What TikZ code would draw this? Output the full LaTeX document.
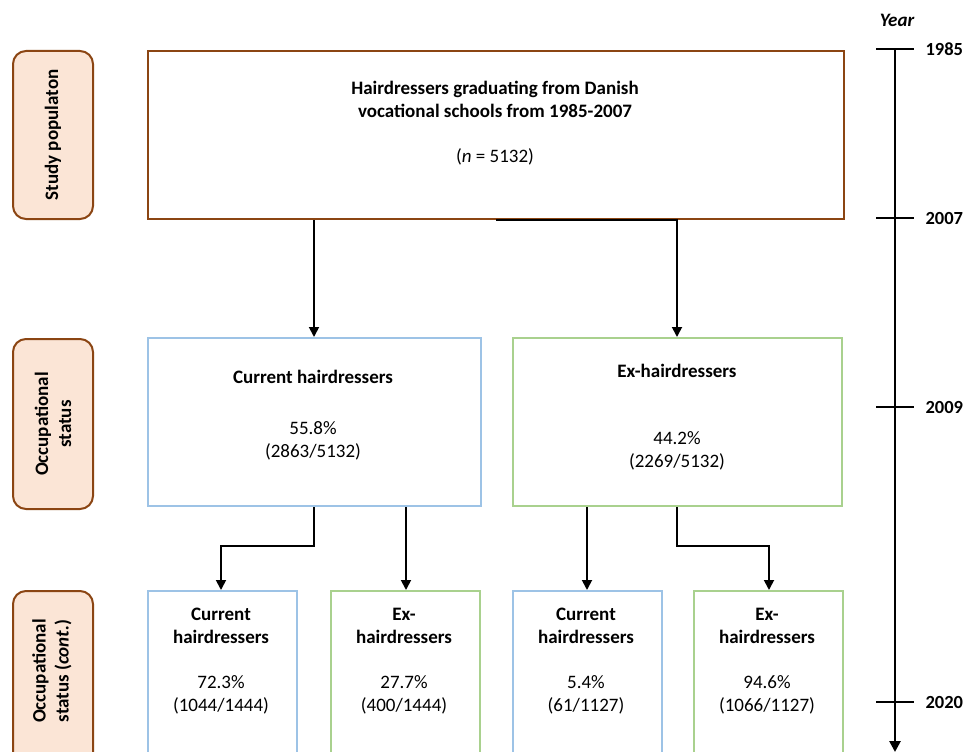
\documentclass[tikz,border=0pt]{standalone}
\usepackage{fontspec}
\setmainfont{Carlito}
\usetikzlibrary{arrows.meta}
\definecolor{brn}{HTML}{8B4513}
\definecolor{peach}{HTML}{FBE5D6}
\definecolor{blu}{HTML}{9DC3E6}
\definecolor{grn}{HTML}{A9D18E}
\tikzset{
  lab/.style={draw=brn, line width=2pt, fill=peach, rounded corners=13pt, minimum width=80pt, inner sep=0pt, anchor=north west},
  bx/.style={line width=2.2pt, inner sep=0pt, anchor=north west, fill=white},
  conn/.style={line width=1.8pt, -{Triangle[length=10pt,width=10pt]}},
  tick/.style={line width=2pt},
  yr/.style={font=\fontsize{18.5}{22}\selectfont\bfseries, anchor=west},
  txt/.style={font=\fontsize{19}{23}\selectfont, align=center},
  btxt/.style={font=\fontsize{19}{23}\selectfont\bfseries, align=center},
}
\begin{document}
\begin{tikzpicture}[x=1pt,y=-1pt]
\useasboundingbox (0,0) rectangle (967,752);
\clip (0,0) rectangle (967,752);
% left labels
\node[lab, minimum height=168pt] (l1) at (12,50) {};
\node[rotate=90, btxt] at (l1.center) {Study populaton};
\node[lab, minimum height=170pt] (l2) at (12,338) {};
\node[rotate=90, btxt] at (l2.center) {Occupational\\status};
\node[lab, minimum height=180pt] (l3) at (12,590) {};
\node[rotate=90, btxt] at (52,671) {Occupational\\status (\textit{cont.})};
% top box
\node[bx, draw=brn, minimum width=696pt, minimum height=168pt] (top) at (147,50) {};
\node[btxt] at (495,99) {Hairdressers graduating from Danish\\vocational schools from 1985-2007};
\node[txt] at (495,157) {(\textit{n} = 5132)};
% middle boxes
\node[bx, draw=blu, minimum width=333pt, minimum height=168pt] (cur) at (147,337) {};
\node[btxt] at (313,377) {Current hairdressers};
\node[txt] at (313,441) {55.8\%\\(2863/5132)};
\node[bx, draw=grn, minimum width=329pt, minimum height=168pt] (ex) at (512,337) {};
\node[btxt] at (677,371) {Ex-hairdressers};
\node[txt] at (677,451) {44.2\%\\(2269/5132)};
% bottom boxes
\node[bx, draw=blu, minimum width=149pt, minimum height=180pt] (b1) at (147,590) {};
\node[bx, draw=grn, minimum width=149pt, minimum height=180pt] (b2) at (330,590) {};
\node[bx, draw=blu, minimum width=149pt, minimum height=180pt] (b3) at (512,590) {};
\node[bx, draw=grn, minimum width=149pt, minimum height=180pt] (b4) at (693,590) {};
\node[btxt] at (221,626) {Current\\hairdressers};
\node[txt] at (221,695) {72.3\%\\(1044/1444)};
\node[btxt] at (404,626) {Ex-\\hairdressers};
\node[txt] at (404,695) {27.7\%\\(400/1444)};
\node[btxt] at (586,626) {Current\\hairdressers};
\node[txt] at (586,695) {5.4\%\\(61/1127)};
\node[btxt] at (767,626) {Ex-\\hairdressers};
\node[txt] at (767,695) {94.6\%\\(1066/1127)};
% connectors
\draw[conn] (top.south -| 314,0) -- (cur.north -| 314,0);
\draw[conn] (top.south) -- (top.south -| 677,0) -- (ex.north -| 677,0);
\draw[conn] (cur.south -| 314,0) -- (314,546) -- (221,546) -- (b1.north -| 221,0);
\draw[conn] (cur.south -| 406,0) -- (b2.north -| 406,0);
\draw[conn] (ex.south -| 587,0) -- (b3.north -| 587,0);
\draw[conn] (ex.south -| 677,0) -- (677,546) -- (769,546) -- (b4.north -| 769,0);
% timeline
\coordinate (t0) at (895,49);
\coordinate (t1) at (895,752);
\draw[line width=2.6pt, -{Triangle[length=11pt,width=11pt]}] (t0) -- (t1);
\node[font=\fontsize{19}{22}\selectfont\bfseries\itshape] (year) at (897,20) {Year};
\foreach \yy/\lab in {49/1985,218/2007,407/2009,702/2020}{
  \draw[tick] (876,\yy) -- (914,\yy);
  \node[yr] at (922,\yy) {\lab};
}
\end{tikzpicture}
\end{document}
